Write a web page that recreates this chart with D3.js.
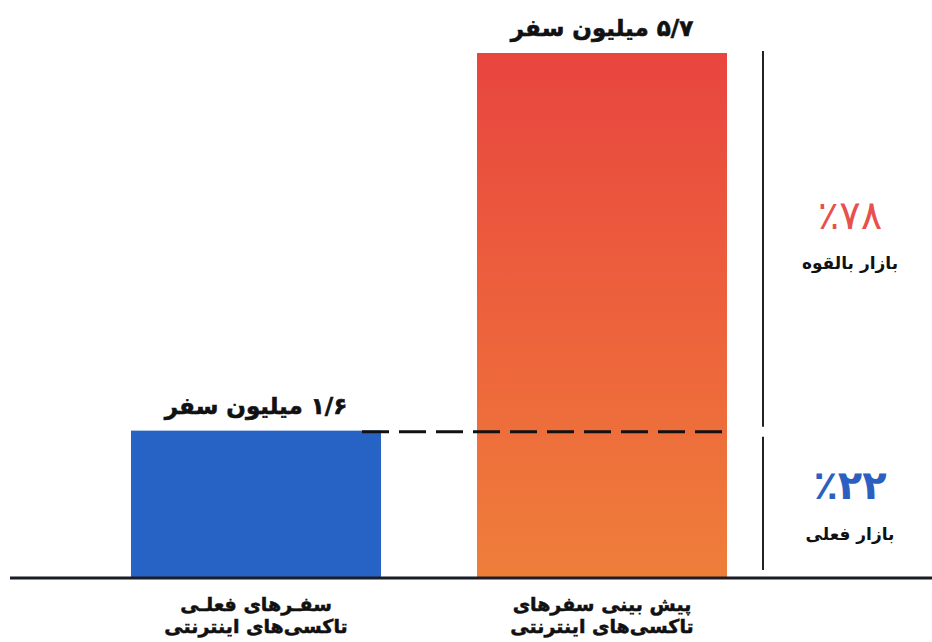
<!DOCTYPE html>
<html>
<head>
<meta charset="utf-8">
<script src="https://cdn.jsdelivr.net/npm/d3@7/dist/d3.min.js"></script>
<style>
  html, body { margin: 0; padding: 0; background: #ffffff; }
  svg { display: block; }
  text { font-family: "DejaVu Sans", "Noto Sans", sans-serif; }
</style>
</head>
<body>
<svg id="chart" width="932" height="642"></svg>
<script>
// ---- data ----
const categories = ["current", "forecast"];
const categoryLabelsLine1 = ["سفـرهای فعلـی", "پیش بینی سفرهای"];
const categoryLabelsLine2 = ["تاکسی‌های اینترنتی", "تاکسی‌های اینترنتی"];
const values = [1.6, 5.7];
const valueLabels = ["۱/۶ میلیون سفر", "۵/۷ میلیون سفر"];
const shareValues = [22, 78];
const shareLabels = ["٪۲۲", "٪۷۸"];
const shareNames = ["بازار فعلی", "بازار بالقوه"];

// ---- layout ----
const svg = d3.select("#chart");
const baseY = 578, topY = 53;
const x = d3.scaleBand().domain(categories).range([131, 727]).paddingInner(96 / 346).paddingOuter(0);
const y = d3.scaleLinear().domain([0, d3.max(values)]).range([baseY, topY]);

const defs = svg.append("defs");
const grad = defs.append("linearGradient").attr("id", "orangeGrad")
  .attr("x1", 0).attr("y1", 0).attr("x2", 0).attr("y2", 1);
grad.append("stop").attr("offset", "0%").attr("stop-color", "#e8453f");
grad.append("stop").attr("offset", "45%").attr("stop-color", "#ec5f3c");
grad.append("stop").attr("offset", "100%").attr("stop-color", "#ef7e3a");

const fills = ["#2763c4", "url(#orangeGrad)"];

// bars
svg.selectAll("rect.bar").data(values).join("rect")
  .attr("class", "bar")
  .attr("x", (d, i) => x(categories[i]))
  .attr("width", x.bandwidth())
  .attr("y", d => y(d))
  .attr("height", d => baseY - y(d))
  .attr("fill", (d, i) => fills[i]);

// value labels
svg.selectAll("text.vlabel").data(values).join("text")
  .attr("class", "vlabel")
  .attr("x", (d, i) => x(categories[i]) + x.bandwidth() / 2)
  .attr("y", d => y(d) - 17)
  .attr("text-anchor", "middle")
  .attr("direction", "rtl")
  .attr("font-size", 23)
  .attr("font-weight", "bold")
  .attr("fill", "#111")
  .attr("stroke", "#111").attr("stroke-width", 0.6)
  .text((d, i) => valueLabels[i]);

// dashed line at current level
const dashY = y(values[0]) + 1;
svg.append("line")
  .attr("x1", 362).attr("x2", 731)
  .attr("y1", dashY).attr("y2", dashY)
  .attr("stroke", "#111").attr("stroke-width", 3)
  .attr("stroke-dasharray", "27,10");

// vertical divider with gap
const vx = 763;
svg.append("line").attr("x1", vx).attr("x2", vx).attr("y1", y(d3.max(values)) - 2).attr("y2", dashY - 5)
  .attr("stroke", "#222").attr("stroke-width", 2);
svg.append("line").attr("x1", vx).attr("x2", vx).attr("y1", dashY + 5).attr("y2", baseY - 8)
  .attr("stroke", "#222").attr("stroke-width", 2);

// baseline
svg.append("line").attr("x1", 10).attr("x2", 932).attr("y1", baseY).attr("y2", baseY)
  .attr("stroke", "#1a1d26").attr("stroke-width", 3);

// share labels on the right
const segCenters = [(dashY + 5 + baseY - 8) / 2, (y(d3.max(values)) + dashY - 5) / 2];
const shareColors = ["#2c60c0", "#e8504c"];
const shareWeights = ["bold", "normal"];
const shareDy = [-4, -11];
const nameDy = [37, 29];
shareValues.forEach((v, i) => {
  const cy = segCenters[i];
  svg.append("text")
    .attr("x", 850).attr("y", cy + shareDy[i])
    .attr("text-anchor", "middle")
    .attr("direction", "ltr")
    .attr("font-size", 40)
    .attr("font-weight", shareWeights[i])
    .attr("fill", shareColors[i])
    .text(shareLabels[i]);
  svg.append("text")
    .attr("x", 850).attr("y", cy + nameDy[i])
    .attr("text-anchor", "middle")
    .attr("direction", "rtl")
    .attr("font-size", 17)
    .attr("font-weight", "bold")
    .attr("fill", "#111")
    .text(shareNames[i]);
});

// category labels
categories.forEach((c, i) => {
  const cx = x(c) + x.bandwidth() / 2;
  svg.append("text").attr("x", cx).attr("y", 611)
    .attr("text-anchor", "middle").attr("direction", "rtl")
    .attr("font-size", 19).attr("font-weight", "bold").attr("fill", "#111")
    .attr("stroke", "#111").attr("stroke-width", 0.5)
    .text(categoryLabelsLine1[i]);
  svg.append("text").attr("x", cx).attr("y", 633)
    .attr("text-anchor", "middle").attr("direction", "rtl")
    .attr("font-size", 19).attr("font-weight", "bold").attr("fill", "#111")
    .attr("stroke", "#111").attr("stroke-width", 0.5)
    .text(categoryLabelsLine2[i]);
});
</script>
</body>
</html>
